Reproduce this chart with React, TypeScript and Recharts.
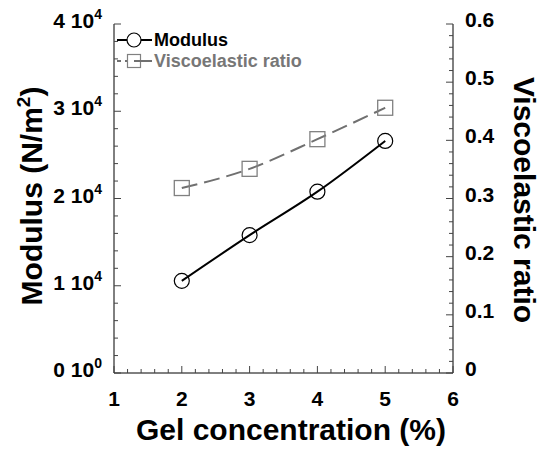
import { ComposedChart, Line, XAxis, YAxis, Legend } from 'recharts'

const FONT = '"Liberation Sans", Arial, sans-serif'

const concentration = [2, 3, 4, 5]
const modulus = [10560, 15800, 20780, 26600]
const viscoRatio = [0.318, 0.351, 0.402, 0.456]

const xMajor = [1, 2, 3, 4, 5, 6]
const modulusMajor = [0, 10000, 20000, 30000, 40000]
const modulusLabels = ['0', '1', '2', '3', '4']
const modulusExp = ['0', '4', '4', '4', '4']
const ratioMajor = [0, 0.1, 0.2, 0.3, 0.4, 0.5, 0.6]
const ratioLabels = ['0', '0.1', '0.2', '0.3', '0.4', '0.5', '0.6']

const data = concentration.map((c, i) => ({ c, modulus: modulus[i], ratio: viscoRatio[i] }))

// minor tick positions between the major ones
function withMinor(major: number[], steps: number) {
  const out: number[] = []
  for (let i = 0; i < major.length - 1; i++) {
    const step = (major[i + 1] - major[i]) / steps
    for (let k = 0; k < steps; k++) out.push(+(major[i] + k * step).toFixed(6))
  }
  out.push(major[major.length - 1])
  return out
}

const xTicks = withMinor(xMajor, 5)
const modulusTicks = withMinor(modulusMajor, 5)
const ratioTicks = withMinor(ratioMajor, 5)

const majorIndex = (arr: number[], v: number) => arr.findIndex((m) => Math.abs(m - v) < 1e-9)

const MAJOR = 7
const MINOR = 4
const TICK_COLOR = '#444'

const BottomTick = ({ x, y, payload }: any) => {
  const i = majorIndex(xMajor, payload.value)
  return (
    <g>
      <line x1={x} x2={x} y1={y} y2={y - (i >= 0 ? MAJOR : MINOR)} stroke={TICK_COLOR} />
      {i >= 0 && (
        <text x={x} y={y + 33} textAnchor="middle" fontFamily={FONT} fontWeight="bold" fontSize={21} fill="#000">
          {xMajor[i]}
        </text>
      )}
    </g>
  )
}

const TopTick = ({ x, y, payload }: any) => {
  const i = majorIndex(xMajor, payload.value)
  return <line x1={x} x2={x} y1={y} y2={y + (i >= 0 ? MAJOR : MINOR)} stroke={TICK_COLOR} />
}

const LeftTick = ({ x, y, payload }: any) => {
  const i = majorIndex(modulusMajor, payload.value)
  return (
    <g>
      <line x1={x} x2={x + (i >= 0 ? MAJOR : MINOR)} y1={y} y2={y} stroke={TICK_COLOR} />
      {i >= 0 && (
        <text x={x - 12} y={y + 4} textAnchor="end" fontFamily={FONT} fontWeight="bold" fontSize={21} fill="#000">
          {modulusLabels[i]} 10
          <tspan dy={-9} fontSize={14}>{modulusExp[i]}</tspan>
        </text>
      )}
    </g>
  )
}

const RightTick = ({ x, y, payload }: any) => {
  const i = majorIndex(ratioMajor, payload.value)
  return (
    <g>
      <line x1={x} x2={x - (i >= 0 ? MAJOR : MINOR)} y1={y} y2={y} stroke={TICK_COLOR} />
      {i >= 0 && (
        <text x={x + 12} y={y + 3} textAnchor="start" fontFamily={FONT} fontWeight="bold" fontSize={21} fill="#000">
          {ratioLabels[i]}
        </text>
      )}
    </g>
  )
}

const SquareDot = ({ cx, cy, index }: any) => (
  <rect key={index} x={cx - 7.5} y={cy - 7.5} width={15} height={15} fill="none" stroke="#808080" strokeWidth={1.3} />
)

const LegendBox = () => (
  <svg width={220} height={44}>
    <line x1={7} x2={42} y1={12} y2={12} stroke="#000" strokeWidth={2} />
    <circle cx={24} cy={12} r={7} fill="#fff" stroke="#000" strokeWidth={1.2} />
    <text x={44} y={18} fontFamily={FONT} fontWeight="bold" fontSize={18} fill="#000">Modulus</text>
    <line x1={7} x2={42} y1={33} y2={33} stroke="#707070" strokeWidth={2} strokeDasharray="4 4" />
    <rect x={17.5} y={26.5} width={13} height={13} fill="#fff" stroke="#808080" strokeWidth={1.2} />
    <line x1={24} x2={42} y1={33} y2={33} stroke="#707070" strokeWidth={2} />
    <text x={44} y={39} fontFamily={FONT} fontWeight="bold" fontSize={18} fill="#777">Viscoelastic ratio</text>
  </svg>
)

export default function App() {
  return (
    <div style={{ position: 'absolute', left: 0, top: 0, width: 546, height: 450, background: '#fff' }}>
      <ComposedChart width={546} height={450} data={data} margin={{ top: 24, right: 0, bottom: 0, left: 0 }}>
        <XAxis
          dataKey="c"
          type="number"
          domain={[1, 6]}
          ticks={xTicks}
          interval={0}
          tickSize={0}
          tickMargin={0}
          tickLine={false}
          tick={(p: any) => <BottomTick {...p} />}
          axisLine={{ stroke: '#000' }}
          height={77}
          label={{
            content: () => (
              <text x={291} y={440} textAnchor="middle" fontFamily={FONT} fontWeight="bold" fontSize={30} fill="#000">
                Gel concentration (%)
              </text>
            ),
          }}
        />
        <XAxis
          xAxisId="top"
          orientation="top"
          dataKey="c"
          type="number"
          domain={[1, 6]}
          ticks={xTicks}
          interval={0}
          tickSize={0}
          tickMargin={0}
          tickLine={false}
          tick={(p: any) => <TopTick {...p} />}
          axisLine={{ stroke: '#000' }}
          height={0}
        />
        <YAxis
          yAxisId="left"
          type="number"
          domain={[0, 40000]}
          ticks={modulusTicks}
          interval={0}
          tickSize={0}
          tickMargin={0}
          tickLine={false}
          tick={(p: any) => <LeftTick {...p} />}
          axisLine={{ stroke: '#000' }}
          width={114}
          label={{
            content: () => (
              <text
                x={42}
                y={196}
                transform="rotate(-90 42 196)"
                textAnchor="middle"
                fontFamily={FONT}
                fontWeight="bold"
                fontSize={30}
                fill="#000"
              >
                Modulus (N/m<tspan dy={-12} fontSize={19}>2</tspan><tspan dy={12}>)</tspan>
              </text>
            ),
          }}
        />
        <YAxis
          yAxisId="right"
          orientation="right"
          type="number"
          domain={[0, 0.6]}
          ticks={ratioTicks}
          interval={0}
          tickSize={0}
          tickMargin={0}
          tickLine={false}
          tick={(p: any) => <RightTick {...p} />}
          axisLine={{ stroke: '#000' }}
          width={93}
          label={{
            content: () => (
              <text
                x={514}
                y={200}
                transform="rotate(90 514 200)"
                textAnchor="middle"
                fontFamily={FONT}
                fontWeight="bold"
                fontSize={30}
                fill="#000"
              >
                Viscoelastic ratio
              </text>
            ),
          }}
        />
        <Legend
          layout="vertical"
          align="center"
          verticalAlign="middle"
          wrapperStyle={{ left: 110, top: 28, width: 220, height: 44 }}
          content={() => <LegendBox />}
        />
        <Line
          yAxisId="right"
          dataKey="ratio"
          type="monotone"
          stroke="#707070"
          strokeWidth={2}
          strokeDasharray="16 7"
          dot={(p: any) => <SquareDot {...p} />}
          isAnimationActive={false}
        />
        <Line
          yAxisId="left"
          dataKey="modulus"
          type="monotone"
          stroke="#000"
          strokeWidth={2}
          dot={{ r: 7.5, fill: 'none', stroke: '#000', strokeWidth: 1.2 }}
          isAnimationActive={false}
        />
      </ComposedChart>
    </div>
  )
}
